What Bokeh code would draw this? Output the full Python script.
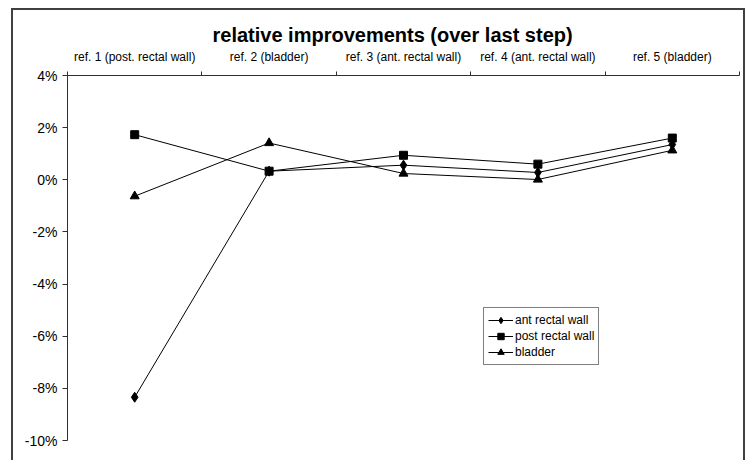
from bokeh.plotting import figure
from bokeh.models import (Range1d, FixedTicker, PrintfTickFormatter, LinearAxis,
                          ColumnDataSource, Legend)
from bokeh.embed import file_html
from bokeh.resources import INLINE

# relative improvement per refinement step, in percent
categories = ["ref. 1 (post. rectal wall)", "ref. 2 (bladder)", "ref. 3 (ant. rectal wall)",
              "ref. 4 (ant. rectal wall)", "ref. 5 (bladder)"]
ant_rectal_wall = [-8.34, 0.33, 0.56, 0.28, 1.35]
post_rectal_wall = [1.73, 0.33, 0.94, 0.60, 1.60]
bladder = [-0.63, 1.41, 0.24, 0.01, 1.13]
y_ticks = [-10, -8, -6, -4, -2, 0, 2, 4]

FONT = "'Liberation Sans', Arial, sans-serif"

n = len(categories)
xs = [i + 0.5 for i in range(n)]

p = figure(width=734, height=456, output_backend="svg", toolbar_location=None,
           x_range=Range1d(0, n), y_range=Range1d(-10, 4),
           min_border_left=54, min_border_right=8, min_border_top=65, min_border_bottom=26,
           x_axis_location=None, y_axis_location=None,
           title="relative improvements (over last step)")
# chart frame drawn around the whole canvas
p.margin = (8, 0, 0, 11)
p.styles = {"border": "2px solid #404040"}

p.grid.visible = False
p.outline_line_color = None
p.background_fill_color = "white"
p.border_fill_color = "white"

p.title.align = "left"
p.title.offset = 145
p.title.text_font = FONT
p.title.text_font_size = "20px"
p.title.text_font_style = "bold"
p.title.text_color = "black"
p.title.standoff = 1

# value axis on the left
yaxis = LinearAxis(ticker=FixedTicker(ticks=y_ticks, minor_ticks=[]),
                   formatter=PrintfTickFormatter(format="%d%%"))
yaxis.axis_line_color = "#303030"
yaxis.major_tick_line_color = "#303030"
yaxis.major_tick_out = 5
yaxis.major_tick_in = 0
yaxis.major_label_standoff = 5
yaxis.major_label_text_font = FONT
yaxis.major_label_text_font_size = "14px"
yaxis.major_label_text_color = "black"
p.add_layout(yaxis, "left")

# category axis along the top: labels at the centres, tick marks between categories
xaxis = LinearAxis(ticker=FixedTicker(ticks=xs, minor_ticks=list(range(n + 1))),
                   major_label_overrides={x: c for x, c in zip(xs, categories)})
xaxis.axis_line_color = "#303030"
xaxis.major_tick_line_color = None
xaxis.major_tick_out = 0
xaxis.major_tick_in = 0
xaxis.minor_tick_line_color = "#303030"
xaxis.minor_tick_out = 4
xaxis.minor_tick_in = 0
xaxis.major_label_standoff = 8
xaxis.major_label_text_font = FONT
xaxis.major_label_text_font_size = "12px"
xaxis.major_label_text_color = "black"
p.add_layout(xaxis, "above")

series = [
    ("ant rectal wall", ant_rectal_wall, "diamond", 10),
    ("post rectal wall", post_rectal_wall, "square", 8),
    ("bladder", bladder, "triangle", 9),
]
items = []
for name, vals, marker, size in series:
    src = ColumnDataSource(dict(x=xs, y=vals))
    l = p.line("x", "y", source=src, line_color="black", line_width=1)
    m = p.scatter("x", "y", source=src, marker=marker, size=size,
                  fill_color="black", line_color="black")
    items.append((name, [l, m]))

legend = Legend(items=items, location=(416, 75))
legend.border_line_color = "black"
legend.border_line_width = 1
legend.background_fill_color = "white"
legend.label_text_font = FONT
legend.label_text_font_size = "12px"
legend.label_text_color = "black"
legend.glyph_width = 25
legend.glyph_height = 16
legend.label_height = 16
legend.label_standoff = 2
legend.spacing = 0
legend.padding = 4
legend.margin = 0
p.add_layout(legend, "center")

open("out.html", "w").write(file_html(p, INLINE))
